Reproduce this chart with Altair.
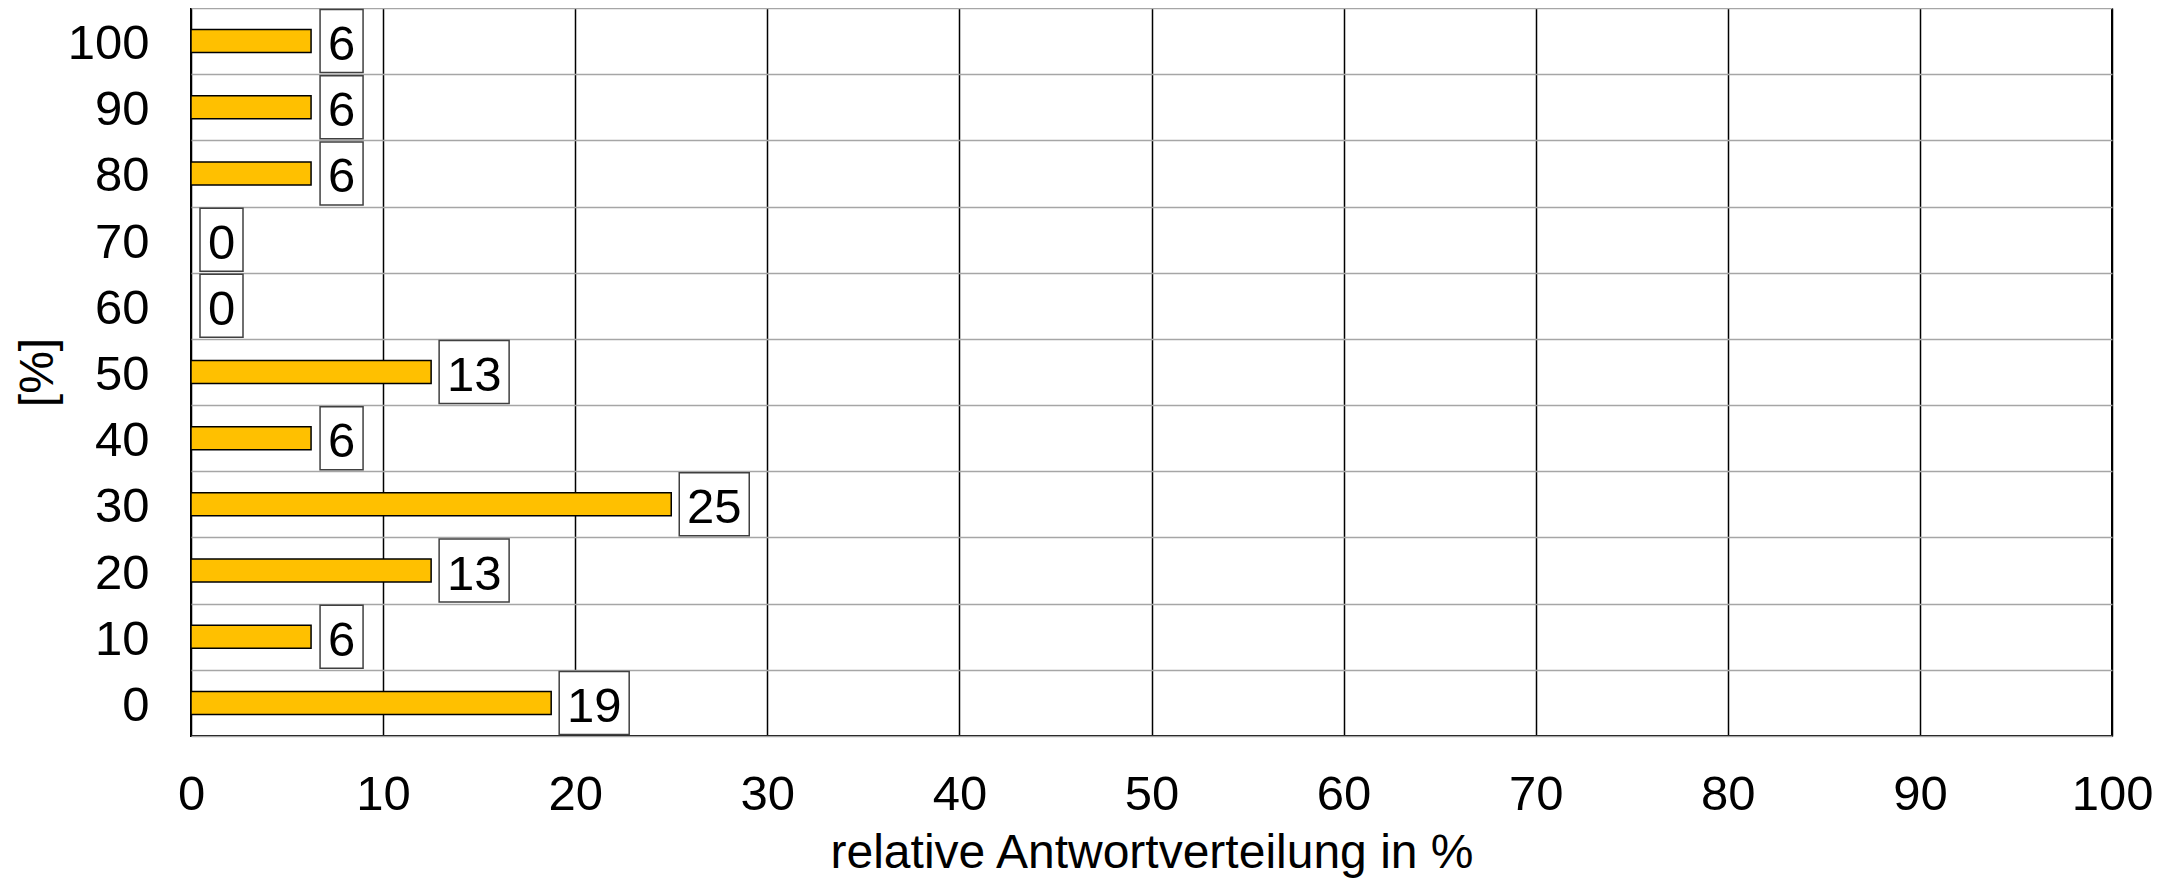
import altair as alt
import pandas as pd

categories = ["100", "90", "80", "70", "60", "50", "40", "30", "20", "10", "0"]
values = [6.25, 6.25, 6.25, 0, 0, 12.5, 6.25, 25, 12.5, 6.25, 18.75]
labels = ["6", "6", "6", "0", "0", "13", "6", "25", "13", "6", "19"]
x_ticks = [0, 10, 20, 30, 40, 50, 60, 70, 80, 90, 100]

df = pd.DataFrame({"cat": categories, "val": values, "lab": labels})

FONT = "Liberation Sans"
FS = 49
TFS = 48

x_enc = alt.X(
    "val:Q",
    scale=alt.Scale(domain=[0, 100], nice=False, zero=True),
    axis=alt.Axis(
        values=x_ticks,
        title="relative Antwortverteilung in %",
        grid=True,
        gridColor="#000000",
        gridWidth=1.5,
        gridOpacity=1,
        domain=False,
        ticks=False,
        labelFlush=False,
        labelPadding=73,
        labelBaseline="alphabetic",
        titleBaseline="alphabetic",
        titleY=131,
    ),
)
y_enc = alt.Y(
    "cat:N",
    sort=categories,
    scale=alt.Scale(paddingInner=0, paddingOuter=0),
    axis=alt.Axis(
        title="[%]",
        grid=True,
        gridColor="#A6A6A6",
        gridWidth=1.5,
        gridOpacity=1,
        tickBand="extent",
        domain=False,
        ticks=False,
        labelPadding=42,
        labelBaseline="alphabetic",
        labelOffset=17.5,
        titleAngle=-90,
        titleX=-153,
        titleBaseline="middle",
        titleAlign="center",
    ),
)

base = alt.Chart(df).encode(y=y_enc)

bars = base.transform_filter("datum.val > 0").mark_bar(
    color="#FFC000", stroke="#000000", strokeWidth=1.5, size=23
).encode(x=x_enc)

one = "length(datum.lab) == 1"
two = "length(datum.lab) == 2"

box1 = base.transform_filter(one).mark_bar(
    fill="white", stroke="#404040", strokeWidth=1.5, size=63, xOffset=9, x2Offset=52
).encode(x=x_enc, x2="val:Q")
box2 = base.transform_filter(two).mark_bar(
    fill="white", stroke="#404040", strokeWidth=1.5, size=63, xOffset=8, x2Offset=78
).encode(x=x_enc, x2="val:Q")

text1 = base.transform_filter(one).mark_text(
    align="center", baseline="alphabetic", dx=30.5, dy=19, fontSize=FS, font=FONT, color="black"
).encode(x=x_enc, text="lab:N")
text2 = base.transform_filter(two).mark_text(
    align="center", baseline="alphabetic", dx=43, dy=19, fontSize=FS, font=FONT, color="black"
).encode(x=x_enc, text="lab:N")

chart = (
    alt.layer(bars, box1, box2, text1, text2)
    .properties(
        width=1921,
        height=728,
        autosize=alt.AutoSizeParams(type="none"),
        padding={"left": 183, "top": 0, "right": 40, "bottom": 150},
        background="white",
    )
    .configure_view(stroke="#000000", strokeWidth=2)
    .configure_axis(
        labelFont=FONT,
        titleFont=FONT,
        labelFontSize=FS,
        titleFontSize=TFS,
        labelColor="black",
        titleColor="black",
        titleFontWeight="normal",
    )
)

chart.save("out.html", embed_options={"renderer": "svg", "actions": False})
